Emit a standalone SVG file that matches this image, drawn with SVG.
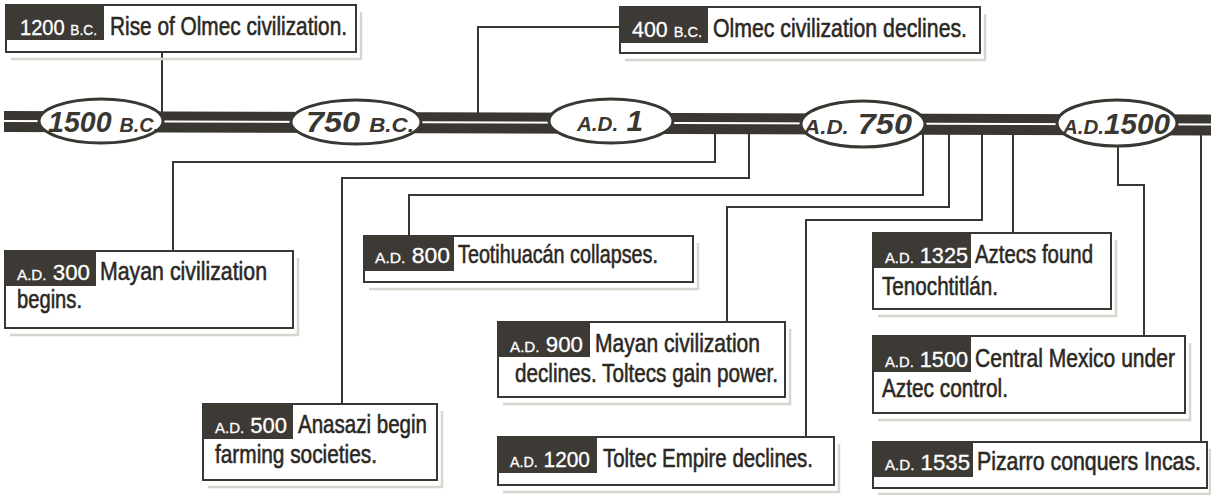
<svg xmlns="http://www.w3.org/2000/svg" width="1211" height="495" viewBox="0 0 1211 495">
<style>
.frame{fill:#fff;stroke:#3a3631;stroke-width:2}
.lab{fill:#3d3934}
.shadow{fill:none;stroke:#d9d5ce;stroke-width:2.5}
.lt{fill:#fff;stroke:#fff;stroke-width:0.3;font-family:"Liberation Sans",Arial,sans-serif;font-size:22px}
.sc{font-size:15px}
.tx{fill:#2b2824;stroke:#2b2824;stroke-width:0.55;font-family:"Liberation Sans",Arial,sans-serif;font-size:25px}
.conn path{fill:none;stroke:#3a3631;stroke-width:2}
.oval{fill:#fff;stroke:#3a3631;stroke-width:3}
.ot{fill:#3a3631;font-family:"Liberation Sans",Arial,sans-serif;font-weight:bold;font-style:italic;font-size:29px}
.os{font-size:20px}
</style>
<rect width="1211" height="495" fill="#fff"/>
<g id="connectors" class="conn">
<path d="M162,52 V118"/>
<path d="M620,27 H478 V118"/>
<path d="M715,128 V162 H173 V251"/>
<path d="M749,128 V178 H342 V404"/>
<path d="M923,130 V195 H409 V236"/>
<path d="M949,130 V207 H727 V322"/>
<path d="M982,130 V220 H806 V437"/>
<path d="M1013,130 V233"/>
<path d="M1118,130 V185 H1144 V336"/>
<path d="M1201,130 V442"/>
</g>
<g id="timeline">
<path d="M4,121.5 L1211,125" stroke="#3a3631" stroke-width="21" fill="none"/>
<path d="M4,121 L1211,124.5" stroke="#fff" stroke-width="2" fill="none"/>
</g>
<g id="e1500bc"><ellipse class="oval" cx="101" cy="121" rx="62" ry="22"/><text class="ot" x="48" y="132" textLength="111" lengthAdjust="spacingAndGlyphs">1500 <tspan class="os">B.C.</tspan></text></g>
<g id="e750bc"><ellipse class="oval" cx="356" cy="122" rx="65" ry="22"/><text class="ot" x="306" y="132" textLength="108" lengthAdjust="spacingAndGlyphs">750 <tspan class="os">B.C.</tspan></text></g>
<g id="ead1"><ellipse class="oval" cx="611" cy="121" rx="62" ry="22"/><text class="ot" x="577" y="131" textLength="66" lengthAdjust="spacingAndGlyphs"><tspan class="os">A.D.</tspan> 1</text></g>
<g id="ead750"><ellipse class="oval" cx="863" cy="124" rx="62" ry="23"/><text class="ot" x="804" y="134" textLength="108" lengthAdjust="spacingAndGlyphs"><tspan class="os">A.D.</tspan> 750</text></g>
<g id="ead1500"><ellipse class="oval" cx="1117" cy="123" rx="60" ry="23"/><text class="ot" x="1063" y="134" textLength="107" lengthAdjust="spacingAndGlyphs"><tspan class="os">A.D.</tspan>1500</text></g>

<g id="bc1200">
<path class="shadow" d="M361,12 V59 H11"/>
<rect class="frame" x="6" y="5" width="350" height="47"/>
<rect class="lab" x="6" y="5" width="98" height="35"/>
<text class="lt" x="20" y="35" textLength="77" lengthAdjust="spacingAndGlyphs">1200 <tspan class="sc">B.C.</tspan></text>
<text class="tx" x="110" y="35" textLength="237" lengthAdjust="spacingAndGlyphs">Rise of Olmec civilization.</text>
</g>
<g id="bc400">
<path class="shadow" d="M985,14 V60 H625"/>
<rect class="frame" x="620" y="7" width="360" height="46"/>
<rect class="lab" x="620" y="7" width="88" height="36"/>
<text class="lt" x="632" y="37" textLength="70" lengthAdjust="spacingAndGlyphs">400 <tspan class="sc">B.C.</tspan></text>
<text class="tx" x="713" y="37" textLength="254" lengthAdjust="spacingAndGlyphs">Olmec civilization declines.</text>
</g>
<g id="ad300">
<path class="shadow" d="M298,258 V335 H10"/>
<rect class="frame" x="5" y="251" width="288" height="77"/>
<rect class="lab" x="5" y="251" width="91" height="35"/>
<text class="lt" x="17" y="280" textLength="73" lengthAdjust="spacingAndGlyphs"><tspan class="sc">A.D.</tspan> 300</text>
<text class="tx" x="100" y="280" textLength="167" lengthAdjust="spacingAndGlyphs">Mayan civilization</text>
<text class="tx" x="17" y="308" textLength="65" lengthAdjust="spacingAndGlyphs">begins.</text>
</g>
<g id="ad800">
<path class="shadow" d="M698,243 V289 H369"/>
<rect class="frame" x="364" y="236" width="329" height="46"/>
<rect class="lab" x="364" y="236" width="90" height="35"/>
<text class="lt" x="375" y="263" textLength="75" lengthAdjust="spacingAndGlyphs"><tspan class="sc">A.D.</tspan> 800</text>
<text class="tx" x="458" y="263" textLength="200" lengthAdjust="spacingAndGlyphs">Teotihuacán collapses.</text>
</g>
<g id="ad500">
<path class="shadow" d="M442,411 V487 H208"/>
<rect class="frame" x="203" y="404" width="234" height="76"/>
<rect class="lab" x="203" y="404" width="90" height="35"/>
<text class="lt" x="215" y="433" textLength="72" lengthAdjust="spacingAndGlyphs"><tspan class="sc">A.D.</tspan> 500</text>
<text class="tx" x="298" y="433" textLength="129" lengthAdjust="spacingAndGlyphs">Anasazi begin</text>
<text class="tx" x="215" y="463" textLength="162" lengthAdjust="spacingAndGlyphs">farming societies.</text>
</g>
<g id="ad900">
<path class="shadow" d="M790,329 V404 H503"/>
<rect class="frame" x="498" y="322" width="287" height="75"/>
<rect class="lab" x="498" y="322" width="92" height="35"/>
<text class="lt" x="510" y="352" textLength="73" lengthAdjust="spacingAndGlyphs"><tspan class="sc">A.D.</tspan> 900</text>
<text class="tx" x="595" y="352" textLength="165" lengthAdjust="spacingAndGlyphs">Mayan civilization</text>
<text class="tx" x="515" y="382" textLength="263" lengthAdjust="spacingAndGlyphs">declines. Toltecs gain power.</text>
</g>
<g id="ad1200">
<path class="shadow" d="M839,444 V492 H503"/>
<rect class="frame" x="498" y="437" width="336" height="48"/>
<rect class="lab" x="498" y="437" width="99" height="36"/>
<text class="lt" x="510" y="467" textLength="80" lengthAdjust="spacingAndGlyphs"><tspan class="sc">A.D.</tspan> 1200</text>
<text class="tx" x="603" y="467" textLength="210" lengthAdjust="spacingAndGlyphs">Toltec Empire declines.</text>
</g>
<g id="ad1325">
<path class="shadow" d="M1116,240 V316 H878"/>
<rect class="frame" x="873" y="233" width="238" height="76"/>
<rect class="lab" x="873" y="233" width="98" height="35"/>
<text class="lt" x="885" y="263" textLength="83" lengthAdjust="spacingAndGlyphs"><tspan class="sc">A.D.</tspan> 1325</text>
<text class="tx" x="975" y="263" textLength="118" lengthAdjust="spacingAndGlyphs">Aztecs found</text>
<text class="tx" x="882" y="295" textLength="116" lengthAdjust="spacingAndGlyphs">Tenochtitlán.</text>
</g>
<g id="ad1500">
<path class="shadow" d="M1190,343 V420 H878"/>
<rect class="frame" x="873" y="336" width="312" height="77"/>
<rect class="lab" x="873" y="336" width="98" height="36"/>
<text class="lt" x="885" y="367" textLength="83" lengthAdjust="spacingAndGlyphs"><tspan class="sc">A.D.</tspan> 1500</text>
<text class="tx" x="975" y="367" textLength="200" lengthAdjust="spacingAndGlyphs">Central Mexico under</text>
<text class="tx" x="882" y="397" textLength="126" lengthAdjust="spacingAndGlyphs">Aztec control.</text>
</g>
<g id="ad1535">
<path class="shadow" d="M1210,449 V494 H878"/>
<rect class="frame" x="873" y="442" width="334" height="46"/>
<rect class="lab" x="873" y="442" width="100" height="35"/>
<text class="lt" x="885" y="470" textLength="85" lengthAdjust="spacingAndGlyphs"><tspan class="sc">A.D.</tspan> 1535</text>
<text class="tx" x="977" y="470" textLength="224" lengthAdjust="spacingAndGlyphs">Pizarro conquers Incas.</text>
</g>
</svg>
